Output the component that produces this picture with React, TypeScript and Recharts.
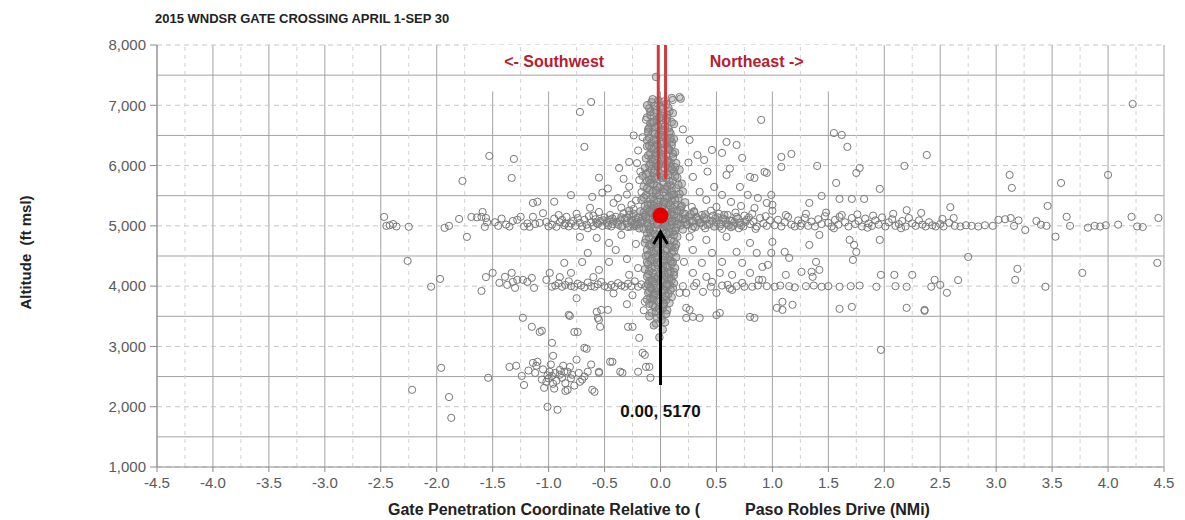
import React from 'react';
import {
  ScatterChart, Scatter, XAxis, YAxis, CartesianGrid,
  ReferenceLine, ReferenceArea, ReferenceDot,
} from 'recharts';

const X_TICKS = [-4.5, -4, -3.5, -3, -2.5, -2, -1.5, -1, -0.5, 0, 0.5, 1, 1.5, 2, 2.5, 3, 3.5, 4, 4.5];
const X_MINOR = [-4.25, -3.75, -3.25, -2.75, -2.25, -1.75, -1.25, -0.75, -0.25, 0.25, 0.75, 1.25, 1.75, 2.25, 2.75, 3.25, 3.75, 4.25];
const Y_TICKS = [1000, 2000, 3000, 4000, 5000, 6000, 7000, 8000];
const Y_HALF = [1500, 2500, 3500, 4500, 5500, 6500, 7500];

// gate fix and annotation
const GATE_FIX = { x: 0, y: 5170 };
const ARROW = [{ x: 0, y: 2360 }, { x: 0, y: 4900 }];
const GATE_LEFT = [{ x: -0.02, y: 5780 }, { x: -0.02, y: 8000 }];
const GATE_RIGHT = [{ x: 0.045, y: 5780 }, { x: 0.045, y: 8000 }];

// dense column right at the gate
const core: number[][] = [
  [-0.04, 7470], [0.1, 7120], [0.18, 7110], [-0.08, 7050], [-0.02, 7080], [0.05, 7020], [-0.1, 6950], [0.0, 6980],
  [0.08, 6900], [-0.06, 6880], [0.03, 6850], [-0.12, 6800], [0.06, 6780], [-0.03, 6760], [0.1, 6720], [-0.09, 6700],
  [0.01, 6680], [-0.05, 6640], [0.07, 6620], [-0.11, 6600], [0.02, 6580], [-0.07, 6550], [0.09, 6530], [-0.02, 6500],
  [0.04, 6480], [-0.1, 6460], [0.12, 6440], [-0.04, 6420], [0.06, 6400], [-0.08, 6380], [0.0, 6360], [0.1, 6340],
  [-0.12, 6320], [0.03, 6300], [-0.06, 6280], [0.08, 6260], [-0.02, 6240], [0.13, 6220], [-0.09, 6200], [0.05, 6180],
  [-0.04, 6160], [0.11, 6140], [-0.13, 6120], [0.01, 6100], [0.07, 6080], [-0.07, 6060], [0.14, 6040], [-0.01, 6020],
  [-0.1, 6000], [0.09, 5980], [-0.14, 5960], [0.04, 5950], [0.17, 5930], [-0.05, 5920], [0.12, 5900], [-0.11, 5880],
  [0.0, 5870], [0.07, 5850], [-0.16, 5830], [-0.03, 5820], [0.15, 5800], [0.05, 5790], [-0.08, 5770], [0.11, 5750],
  [-0.12, 5740], [0.02, 5720], [0.19, 5700], [-0.06, 5690], [0.09, 5670], [-0.15, 5650], [-0.01, 5640], [0.14, 5620],
  [0.06, 5600], [-0.1, 5590], [0.2, 5570], [0.03, 5560], [-0.04, 5540], [0.12, 5520], [-0.13, 5510], [0.08, 5490],
  [-0.07, 5480], [0.16, 5460], [0.0, 5450], [-0.17, 5430], [0.1, 5420], [-0.02, 5400], [0.22, 5390], [0.05, 5380],
  [-0.09, 5360], [0.13, 5350], [-0.14, 5330], [0.02, 5320], [0.18, 5310], [-0.05, 5300], [-0.12, 5280], [0.07, 5270],
  [-0.03, 5260], [0.15, 5250], [-0.18, 5240], [0.1, 5230], [0.0, 5220], [-0.08, 5210], [0.2, 5200], [0.04, 5190],
  [-0.14, 5180], [0.12, 5170], [-0.05, 5160], [0.25, 5150], [-0.2, 5140], [0.08, 5130], [-0.1, 5120], [0.17, 5110],
  [0.01, 5100], [-0.16, 5090], [0.13, 5080], [-0.06, 5070], [0.22, 5060], [0.05, 5050], [-0.12, 5040], [0.1, 5030],
  [-0.02, 5020], [0.18, 5010], [-0.22, 5000], [0.06, 4990], [-0.09, 4980], [0.14, 4970], [0.0, 4960], [-0.15, 4950],
  [0.2, 4940], [0.03, 4930], [-0.07, 4920], [0.11, 4900], [-0.12, 4880], [0.07, 4860], [-0.03, 4840], [0.15, 4820],
  [-0.1, 4800], [0.04, 4780], [-0.05, 4760], [0.12, 4740], [-0.14, 4720], [0.0, 4700], [0.08, 4680], [-0.08, 4660],
  [0.13, 4640], [-0.02, 4620], [-0.12, 4600], [0.05, 4580], [0.1, 4560], [-0.06, 4540], [0.02, 4520], [-0.13, 4500],
  [0.14, 4480], [-0.03, 4460], [0.07, 4440], [-0.09, 4420], [0.11, 4400], [0.0, 4380], [-0.11, 4360], [0.05, 4340],
  [-0.05, 4320], [0.13, 4300], [-0.14, 4280], [0.03, 4260], [0.09, 4240], [-0.07, 4220], [-0.01, 4200], [0.12, 4180],
  [-0.12, 4160], [0.06, 4140], [-0.04, 4120], [0.1, 4100], [-0.1, 4080], [0.02, 4060], [-0.06, 4040], [0.08, 4020],
  [-0.13, 4000], [0.0, 3990], [0.11, 3970], [-0.08, 3950], [0.04, 3930], [-0.03, 3910], [-0.11, 3890], [0.07, 3870],
  [-0.06, 3840], [0.02, 3820], [-0.09, 3800], [0.05, 3770], [-0.02, 3740], [-0.1, 3710], [0.03, 3680], [-0.05, 3650],
  [0.06, 3600], [-0.08, 3560], [0.0, 3520], [-0.03, 3470], [0.04, 3400], [-0.06, 3350], [0.02, 3280], [-0.01, 3150],
];

// more of the same column, where the circles pile up into a grey block
const coreFill: number[][] = [
  [-0.07, 7100], [0.03, 7060], [-0.12, 7000], [0.07, 6960], [-0.04, 6920], [0.11, 6870], [-0.09, 6830], [0.0, 6800],
  [0.05, 6750], [-0.06, 6730], [0.12, 6690], [-0.02, 6660], [-0.1, 6630], [0.04, 6600], [0.08, 6560], [-0.05, 6520],
  [0.0, 6470], [-0.12, 6420], [0.1, 6390], [-0.03, 6350], [0.06, 6310], [-0.08, 6290], [0.01, 6250], [0.11, 6200],
  [-0.11, 6170], [0.03, 6130], [-0.05, 6090], [0.09, 6050], [-0.09, 6030], [0.05, 6010], [-0.03, 5990], [0.13, 5970],
  [-0.08, 5940], [0.09, 5910], [-0.13, 5860], [0.03, 5840], [0.13, 5820], [-0.05, 5790], [-0.1, 5760], [0.08, 5730],
  [0.16, 5680], [-0.03, 5660], [-0.12, 5620], [0.04, 5610], [0.1, 5580], [-0.07, 5560], [0.17, 5530], [-0.01, 5510],
  [-0.15, 5470], [0.06, 5460], [0.13, 5430], [-0.06, 5410], [0.02, 5370], [-0.11, 5350], [0.09, 5340], [0.19, 5330],
  [-0.02, 5310], [-0.28, 5250], [0.3, 5240], [-0.24, 5200], [0.27, 5190], [-0.3, 5130], [0.33, 5120], [-0.26, 5090],
  [0.29, 5080], [-0.23, 5030], [0.24, 5020], [-0.27, 4990], [0.31, 4980], [-0.19, 4960], [0.18, 5260], [-0.15, 5220],
  [0.16, 5140], [-0.08, 5250], [0.05, 5240], [-0.02, 5180], [0.09, 5200], [-0.11, 5000], [0.08, 5060], [-0.04, 5110],
  [0.02, 4980], [0.13, 4920], [-0.17, 5050], [0.22, 5120], [-0.07, 5280], [0.15, 5030], [-0.13, 5150],
  [0.36, 5050], [0.39, 5140], [0.42, 5020], [0.46, 5080], [0.51, 5140], [0.54, 5030], [0.58, 5100], [0.61, 5010],
  [0.66, 5060], [0.69, 5120], [0.72, 5010], [0.76, 5070], [0.4, 5190], [0.48, 4990], [0.57, 5180], [0.63, 4980],
  [-0.35, 5140], [-0.39, 5060], [-0.43, 5120], [-0.47, 5010], [-0.51, 5090], [-0.57, 5050], [-0.35, 4990],
  [-0.09, 4890], [0.05, 4870], [0.12, 4850], [-0.01, 4820], [-0.13, 4780], [0.09, 4760], [-0.06, 4730], [0.03, 4710],
  [0.14, 4690], [-0.1, 4680], [-0.03, 4640], [0.06, 4620], [-0.08, 4580], [0.12, 4570], [0.0, 4550], [-0.11, 4520],
  [0.08, 4490], [-0.05, 4470], [0.03, 4430], [-0.12, 4400], [0.1, 4370], [-0.02, 4350], [0.06, 4310], [-0.08, 4290],
  [0.01, 4270], [0.12, 4230], [-0.11, 4200], [0.04, 4190], [-0.05, 4150], [0.08, 4120], [-0.08, 4100], [0.0, 4090],
  [0.12, 4050], [-0.11, 4030], [0.05, 4000], [-0.04, 3970], [0.09, 3940], [-0.1, 3920], [0.01, 3900], [-0.06, 3860],
  [0.05, 3840], [-0.12, 3780], [0.0, 3760], [0.08, 3720], [-0.07, 3690], [0.02, 3630], [-0.04, 3580], [0.05, 3540],
  [-0.1, 3500], [0.01, 3440], [-0.04, 3380],
  [-0.05, 6990], [0.02, 6940], [-0.09, 6890], [0.06, 6840], [-0.01, 6790], [-0.07, 6710], [0.04, 6650], [-0.11, 6560],
  [0.01, 6510], [0.09, 6460], [-0.06, 6430], [0.03, 6370], [-0.1, 6330], [0.07, 6270], [-0.04, 6220], [0.02, 6170],
  [-0.08, 6110], [0.06, 6060], [-0.02, 6000], [0.1, 5940], [-0.06, 5880], [0.01, 5800], [-0.09, 5710], [0.06, 5650],
  [-0.04, 5590], [0.1, 5510], [-0.09, 5440], [0.03, 5400], [-0.06, 5340], [0.11, 5290], [-0.1, 5240], [0.06, 5160],
  [-0.07, 5100], [0.1, 5080], [-0.03, 5040], [0.04, 5010], [-0.1, 4940], [0.08, 4900], [-0.05, 4860], [0.01, 4740],
  [-0.09, 4700], [0.1, 4650], [-0.04, 4590], [0.04, 4500], [-0.08, 4450], [0.09, 4420], [-0.03, 4390], [0.02, 4330],
  [-0.1, 4250], [0.07, 4210], [-0.02, 4160], [0.03, 4110], [-0.07, 4070], [0.06, 4030], [-0.09, 3980], [0.02, 3940],
  [-0.05, 3880], [0.1, 3820], [-0.07, 3780], [0.03, 3710], [-0.01, 3620],
];

const swFar: number[][] = [
  [-2.47, 5148], [-2.45, 5000], [-2.42, 5010], [-2.39, 5030], [-2.36, 4990], [-2.25, 4985], [-2.26, 4419], [-2.05, 3990],
  [-1.97, 4120], [-1.93, 4966], [-1.89, 5000], [-1.8, 5115], [-1.77, 5745], [-1.73, 4817], [-1.69, 5148], [-1.64, 5140],
  [-1.6, 5150], [-1.59, 5230], [-1.56, 5130], [-1.57, 4983], [-1.55, 5060], [-1.53, 6160], [-1.5, 4220], [-1.56, 4150],
  [-1.6, 3920], [-2.22, 2280], [-1.96, 2645], [-1.89, 2160], [-1.87, 1815], [-1.54, 2480], [-1.33, 5795], [-1.31, 6110],
];

const swLow: number[][] = [
  [-1.23, 3475], [-1.15, 3325], [-1.06, 3260], [-0.97, 3060], [-0.96, 2845], [-0.81, 3506], [-0.74, 3240], [-0.66, 2960],
  [-0.57, 3575], [-1.35, 2660], [-1.29, 2680], [-1.24, 2510], [-1.22, 2360], [-1.14, 2727], [-1.11, 2680], [-1.1, 2745],
  [-1.04, 2313], [-1.02, 2413], [-1.01, 2520], [-0.99, 2580], [-0.97, 2510], [-0.94, 2560], [-0.9, 2530], [-0.86, 2580],
  [-0.83, 2280], [-0.81, 2660], [-0.79, 2530], [-0.75, 2780], [-0.72, 2413], [-0.7, 2450], [-0.65, 2580], [-0.59, 2247],
  [-1.01, 1998], [-0.92, 1950], [-0.82, 3523], [-0.55, 3440], [-0.54, 3325], [-0.77, 3240], [-0.29, 3325], [-0.14, 3740],
  [-0.16, 2893], [-0.68, 2976], [-0.45, 2745], [-0.36, 2580], [-0.55, 2580], [-0.2, 2580], [-0.13, 2660], [-0.09, 2480],
  [-0.61, 2280], [-0.53, 3606], [-0.47, 3606], [-0.56, 3473], [-0.25, 3325], [-1.08, 3240], [-0.14, 2860], [-0.1, 2660],
  [-0.43, 2745], [-0.55, 2562], [-0.34, 2562], [-0.85, 2390], [-0.95, 2300], [-1.06, 2450], [-0.88, 2480], [-0.77, 2350],
  [-1.18, 2600], [-0.68, 2500], [-0.19, 3142], [-0.85, 2260], [-0.96, 2380], [-0.62, 2700], [-1.12, 2560], [-1.0, 2470],
  [-0.93, 2430], [-0.9, 2610], [-0.8, 2470], [-0.73, 2560], [-0.83, 2580], [-1.05, 2620], [-0.98, 2700], [-0.87, 2680],
];

const sw4000: number[][] = [
  [-1.44, 4054], [-1.39, 4154], [-1.37, 4021], [-1.33, 4220], [-1.32, 4071], [-1.3, 3971], [-1.28, 4104], [-1.23, 4104],
  [-1.19, 4071], [-1.15, 4137], [-1.13, 3971], [-1.02, 4104], [-0.99, 4220], [-0.97, 3990], [-0.94, 4010], [-0.91, 4050],
  [-0.88, 3990], [-0.85, 4020], [-0.82, 4080], [-0.8, 4000], [-0.77, 3990], [-0.74, 4040], [-0.71, 4010], [-0.68, 3980],
  [-0.65, 4060], [-0.62, 4000], [-0.59, 3990], [-0.56, 4030], [-0.53, 4070], [-0.5, 4000], [-0.47, 3980], [-0.44, 4020],
  [-0.41, 3990], [-0.38, 4050], [-0.35, 4010], [-0.32, 3990], [-0.29, 4040], [-0.26, 4000], [-0.23, 4080], [-0.2, 3990],
  [-0.17, 4030], [-0.72, 4817], [-0.57, 4800], [-0.46, 4717], [-0.65, 4551], [-0.46, 4402], [-0.86, 4386], [-0.8, 4220],
  [-0.55, 4270], [-0.28, 4187], [-0.4, 4600], [-0.3, 4450], [-0.22, 4700], [-0.35, 4850], [-0.2, 4300], [-0.6, 4150],
  [-0.9, 4150], [-0.7, 4400], [-0.25, 3850], [-0.42, 3880], [-0.15, 3600], [-0.3, 3700], [-0.75, 3800],
];

const sw5000: number[][] = [
  [-1.48, 5060], [-1.45, 5000], [-1.42, 5120], [-1.38, 5020], [-1.35, 4990], [-1.32, 5080], [-1.28, 5100], [-1.25, 5150],
  [-1.22, 4990], [-1.19, 5040], [-1.17, 4985], [-1.14, 5150], [-1.12, 5030], [-1.1, 5400], [-1.08, 5050], [-1.05, 5210],
  [-1.02, 5065], [-1.0, 4990], [-0.97, 5020], [-0.95, 5120], [-0.93, 4985], [-0.9, 5060], [-0.88, 5100], [-0.86, 5010],
  [-0.84, 5150], [-0.82, 4990], [-0.8, 5040], [-0.78, 5080], [-0.76, 5000], [-0.74, 5130], [-0.72, 5050], [-0.7, 4990],
  [-0.68, 5100], [-0.66, 5020], [-0.64, 5160], [-0.62, 5060], [-0.6, 4995], [-0.58, 5110], [-0.56, 5030], [-0.54, 5080],
  [-0.52, 5000], [-0.5, 5140], [-0.48, 5050], [-0.46, 5100], [-0.44, 4990], [-0.42, 5070], [-0.4, 5150], [-0.38, 5020],
  [-0.36, 5090], [-0.34, 5000], [-0.32, 5120], [-0.3, 5040], [-0.28, 5180], [-0.26, 5060], [-0.24, 4990], [-0.22, 5110],
  [-0.2, 5030], [-0.18, 5080], [-0.16, 5150], [-0.91, 5180], [-0.75, 5200], [-0.55, 5230], [-0.45, 5180], [-0.33, 5210],
  [-0.25, 5150], [-0.6, 5170], [-0.85, 5040], [-0.65, 4960], [-0.43, 5030], [-0.29, 4980], [-0.21, 5060],
  [-0.38, 5460], [-0.26, 5350], [-0.19, 5760], [-0.21, 6040], [-0.28, 5650], [-0.37, 5960], [-0.28, 6060], [-0.3, 5520],
  [-0.22, 5420], [-0.17, 5560], [-0.24, 5280], [-0.35, 5300], [-0.42, 5380], [-0.18, 5900], [-0.33, 5780], [-0.16, 6470],
  [-0.13, 6760], [-0.62, 7055], [-0.72, 6890], [-0.68, 6310], [-0.8, 5510], [-0.61, 5480], [-0.52, 5550], [-0.63, 5300],
  [-0.95, 5400], [-0.55, 5800], [-0.47, 5620], [-0.2, 6250], [-0.24, 6500], [-1.14, 5380],
];

const neUpper: number[][] = [
  [0.17, 7138], [0.11, 7088], [0.9, 6757], [0.26, 6425], [0.59, 6392], [0.68, 6342], [0.46, 6259], [0.55, 6210],
  [0.73, 6127], [0.33, 6176], [0.39, 6093], [0.8, 5812], [0.84, 5795], [0.59, 5845], [0.29, 5812], [0.93, 5895],
  [0.48, 5646], [0.71, 5646], [0.55, 5513], [0.35, 5563], [0.78, 5513], [0.87, 5463], [0.41, 5430], [0.63, 5397],
  [0.28, 5314], [0.5, 5314], [0.72, 5330], [0.84, 5297], [0.95, 5380], [1.55, 6540], [1.62, 6508], [1.67, 6310],
  [1.08, 6143], [1.17, 6193], [1.08, 5977], [1.4, 5994], [1.78, 5960], [1.75, 5878], [2.18, 5994], [2.38, 6176],
  [0.95, 5878], [1.57, 5712], [1.96, 5613], [1.44, 5496], [1.33, 5380], [1.6, 5447], [1.71, 5447], [1.82, 5447],
  [0.99, 5513], [3.12, 5845], [3.14, 5630], [3.58, 5712], [4.0, 5845], [4.22, 7022], [1.0, 5350], [0.62, 5950],
  [0.42, 5900], [0.25, 6050], [0.2, 6600],
];

const ne5000: number[][] = [
  [0.2, 5120], [0.23, 5020], [0.26, 5080], [0.29, 4990], [0.32, 5150], [0.35, 5050], [0.38, 5000], [0.41, 5110],
  [0.44, 5030], [0.47, 5170], [0.5, 5060], [0.53, 4990], [0.56, 5120], [0.59, 5040], [0.62, 5090], [0.65, 5000],
  [0.68, 5150], [0.71, 5050], [0.74, 4990], [0.77, 5100], [0.8, 5030], [0.83, 5070], [0.86, 4990], [0.89, 5130],
  [0.92, 5040], [0.95, 5000], [0.98, 5090], [0.22, 5200], [0.3, 5230], [0.37, 5180], [0.45, 5250], [0.52, 5200],
  [0.6, 5180], [0.67, 5220], [0.75, 5170], [0.82, 5200], [0.28, 4950], [0.4, 4960], [0.55, 4950], [0.7, 4960],
  [0.85, 4950], [0.34, 5100], [0.49, 5130], [0.64, 5080], [0.79, 5140], [0.94, 5160],
  [1.02, 5010], [1.05, 5100], [1.08, 4990], [1.11, 5060], [1.14, 5150], [1.17, 5020], [1.2, 4990], [1.23, 5090],
  [1.26, 5040], [1.29, 5130], [1.32, 5000], [1.35, 5070], [1.38, 4990], [1.41, 5110], [1.44, 5030], [1.47, 5160],
  [1.5, 5050], [1.53, 4990], [1.56, 5100], [1.59, 5020], [1.62, 5180], [1.65, 5060], [1.68, 4990], [1.71, 5130],
  [1.74, 5030], [1.77, 5080], [1.8, 4990], [1.83, 5120], [1.86, 5040], [1.89, 5000], [1.92, 5090], [1.95, 5020],
  [1.98, 5140], [2.01, 4990], [2.04, 5060], [2.07, 5110], [2.1, 5000], [2.13, 5030], [2.16, 5080], [2.19, 4990],
  [2.22, 5130], [2.25, 5040], [2.28, 5000], [2.31, 5090], [2.34, 5020], [2.37, 4990], [2.4, 5060], [2.43, 5010],
  [2.46, 4990], [2.5, 5030], [2.53, 4990], [2.58, 5050], [2.63, 5000], [2.68, 4990], [2.73, 5010], [2.78, 5000],
  [2.84, 4990], [2.9, 5010], [2.97, 5000], [1.12, 5180], [1.3, 5200], [1.48, 5220], [1.6, 5150], [1.76, 5190],
  [1.9, 5170], [2.08, 5200], [2.2, 5260], [2.33, 5215], [1.0, 5250], [1.25, 5000], [1.55, 4960], [1.85, 4970],
  [2.15, 4960], [3.02, 5100], [3.08, 5110], [3.13, 5130], [3.2, 5090], [3.26, 4930], [3.36, 5080], [3.4, 5020],
  [3.45, 5000], [3.46, 5330], [3.53, 4820], [3.63, 5150], [3.82, 4970], [3.88, 5000], [3.93, 4990], [4.09, 5020],
  [4.21, 5150], [4.26, 4990], [4.31, 4980], [4.45, 5130], [3.16, 5000], [3.66, 5000], [3.98, 5010], [2.52, 5115],
  [2.62, 5130], [2.59, 5310],
];

const neLower: number[][] = [
  [0.26, 4817], [0.41, 4767], [0.59, 4817], [0.8, 4717], [0.29, 4601], [0.46, 4551], [0.68, 4568], [0.86, 4551],
  [0.21, 4402], [0.37, 4386], [0.55, 4402], [0.73, 4386], [0.91, 4319], [0.29, 4220], [0.41, 4154], [0.53, 4220],
  [0.64, 4187], [0.8, 4220], [0.88, 4104], [0.32, 4054], [0.46, 4071], [0.6, 4021], [0.73, 4054], [0.82, 3990],
  [0.38, 3905], [0.5, 3888], [0.64, 3938], [0.23, 3888], [0.17, 3888], [0.26, 3606], [0.29, 3490], [0.35, 3473],
  [0.53, 3556], [0.84, 3473], [0.23, 3640], [0.23, 3473], [0.5, 3520], [0.8, 3490], [1.18, 3690], [1.97, 2943],
  [1.0, 4734], [1.33, 4684], [1.42, 4850], [1.69, 4767], [1.73, 4684], [1.75, 4568], [1.72, 4435], [1.96, 4767],
  [0.99, 4551], [1.11, 4568], [1.15, 4468], [1.39, 4402], [0.96, 4353], [1.12, 4187], [1.26, 4237], [1.35, 4237],
  [1.42, 4270], [1.36, 4154], [0.91, 4104], [1.97, 4187], [2.09, 4187], [2.25, 4187], [2.45, 4104], [1.04, 3640],
  [1.09, 3606], [1.09, 3740], [1.6, 3623], [1.71, 3656], [2.2, 3640], [2.36, 3606],
  [0.95, 4000], [1.02, 3990], [1.07, 4010], [1.15, 4000], [1.2, 3980], [1.3, 4000], [1.37, 4010], [1.44, 3990],
  [1.5, 4000], [1.6, 3990], [1.7, 4000], [1.78, 4010], [1.93, 3990], [2.1, 4000], [2.2, 3990], [2.42, 3990],
  [2.5, 4020], [2.56, 3890], [2.36, 3590], [2.66, 4100], [0.3, 4000], [0.45, 3990], [0.55, 4010], [0.68, 4000],
  [0.75, 3990], [0.87, 4010], [0.2, 4000], [0.62, 3960], [2.75, 4485], [3.19, 4286], [3.17, 4104], [3.44, 3990],
  [3.77, 4220], [4.44, 4386],
];

const toPts = (rows: number[][]) => rows.map(([x, y]) => ({ x, y }));
const spread = toPts([...swFar, ...swLow, ...sw4000, ...sw5000, ...neUpper, ...ne5000, ...neLower]);
const packed = toPts([...core, ...coreFill]);

const OpenCircle = (p: any) => (
  <circle cx={p.cx} cy={p.cy} r={3.6} fill="none" stroke="#777" strokeWidth={1} />
);

// where the circles sit on top of each other the scan reads as a grey block
const PackedCircle = (p: any) => (
  <circle cx={p.cx} cy={p.cy} r={3.8} fill="#8c8c8c" fillOpacity={0.38} stroke="#808080" strokeWidth={1} />
);

const NoMark = () => <g />;

const textShape = (txt: string, fill: string, size: number) => (p: any) => (
  <text x={p.cx} y={p.cy} textAnchor="middle" dominantBaseline="central"
    fontFamily="Liberation Sans, Arial, sans-serif" fontWeight="bold" fontSize={size} fill={fill}>
    {txt}
  </text>
);

const ArrowHead = (p: any) => (
  <path d={`M${p.cx - 7},${p.cy + 12} L${p.cx},${p.cy} L${p.cx + 7},${p.cy + 12}`}
    fill="none" stroke="#000" strokeWidth={3} />
);

const font = 'Liberation Sans, Arial, sans-serif';
const tick = { fontSize: 15, fill: '#5a5a5a', fontFamily: font };
const label = { position: 'absolute' as const, fontFamily: font, fontWeight: 'bold', color: '#222', whiteSpace: 'nowrap' as const };

export default function App() {
  return (
    <div style={{ position: 'absolute', left: 0, top: 0, width: 1185, height: 520, background: '#fff' }}>
      <ScatterChart width={1185} height={520} margin={{ top: 45, right: 21, left: 0, bottom: 0 }}>
        <CartesianGrid horizontal={false} stroke="#a3a3a3" />
        <CartesianGrid vertical={false} stroke="#c6c6c6" strokeDasharray="5 4" />
        {Y_HALF.map(v => <ReferenceLine key={'h' + v} y={v} stroke="#a3a3a3" />)}
        {X_MINOR.map(v => <ReferenceLine key={'m' + v} x={v} stroke="#d2d2d2" strokeDasharray="4 4" />)}
        <ReferenceArea x1={-1.7} x2={1.62} y1={7230} y2={8000} fill="#fff" fillOpacity={1} stroke="none" />
        <XAxis type="number" dataKey="x" domain={[-4.5, 4.5]} ticks={X_TICKS} allowDataOverflow
          tickFormatter={(v: number) => v.toFixed(1)} tick={tick} tickSize={5} tickMargin={5}
          stroke="#8c8c8c" height={53} />
        <YAxis type="number" dataKey="y" domain={[1000, 8000]} ticks={Y_TICKS} allowDataOverflow
          tickFormatter={(v: number) => v.toLocaleString('en-US')} tick={tick} tickSize={7} tickMargin={4}
          stroke="#8c8c8c" width={157} />
        <Scatter data={spread} shape={OpenCircle} isAnimationActive={false} />
        <Scatter data={packed} shape={PackedCircle} isAnimationActive={false} />
        <Scatter data={GATE_LEFT} line={{ stroke: '#d23c3c', strokeWidth: 3 }} shape={NoMark} isAnimationActive={false} />
        <Scatter data={GATE_RIGHT} line={{ stroke: '#d23c3c', strokeWidth: 3 }} shape={NoMark} isAnimationActive={false} />
        <Scatter data={ARROW} line={{ stroke: '#000', strokeWidth: 3 }}
          shape={(p: any) => (p.index === 1 ? <ArrowHead {...p} /> : <g />)} isAnimationActive={false} />
        <Scatter data={[GATE_FIX]} isAnimationActive={false}
          shape={(p: any) => <circle cx={p.cx} cy={p.cy} r={8} fill="#e40000" />} />
        <ReferenceDot x={-0.95} y={7720} r={1} shape={textShape('<- Southwest', '#b5212e', 16)} />
        <ReferenceDot x={0.86} y={7720} r={1} shape={textShape('Northeast ->', '#b5212e', 16)} />
        <ReferenceDot x={0} y={1915} r={1} shape={textShape(`${GATE_FIX.x.toFixed(2)}, ${GATE_FIX.y}`, '#111', 17)} />
      </ScatterChart>
      <div style={{ ...label, left: 155, top: 11, fontSize: 13 }}>
        2015 WNDSR GATE CROSSING APRIL 1-SEP 30
      </div>
      <div style={{ ...label, left: -75, top: 244, width: 200, textAlign: 'center', transform: 'rotate(-90deg)', fontSize: 15 }}>
        Altitude&nbsp;&nbsp;(ft msl)
      </div>
      <div style={{ ...label, left: 388, top: 501, fontSize: 16 }}>
        Gate Penetration Coordinate Relative to (
      </div>
      <div style={{ ...label, left: 745, top: 501, fontSize: 16 }}>
        Paso Robles Drive (NMi)
      </div>
    </div>
  );
}
